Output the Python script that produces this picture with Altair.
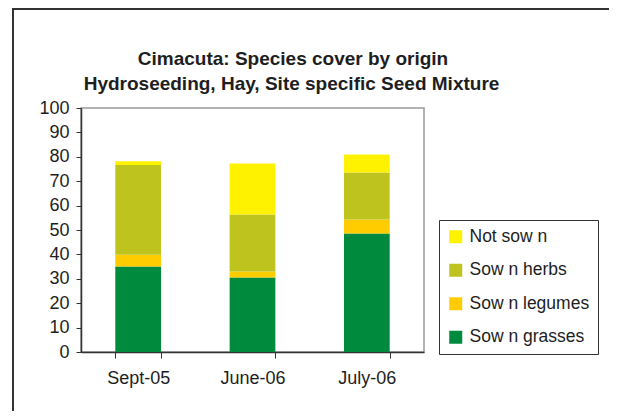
import altair as alt
import pandas as pd

dates = ["Sept-05", "June-06", "July-06"]
series = ["Not sow n", "Sow n herbs", "Sow n legumes", "Sow n grasses"]
colors = ["#FFF200", "#BFC31E", "#FFCC00", "#008A3E"]
grasses = [35.0, 30.5, 48.6]
legumes = [4.9, 2.5, 5.7]
herbs = [36.7, 23.4, 19.3]
not_sown = [1.6, 20.9, 7.3]
title_lines = ["Cimacuta: Species cover by origin",
               "Hydroseeding, Hay, Site specific Seed Mixture"]

rows = []
for i, d in enumerate(dates):
    for name, vals, rank in [("Sow n grasses", grasses, 0), ("Sow n legumes", legumes, 1),
                             ("Sow n herbs", herbs, 2), ("Not sow n", not_sown, 3)]:
        rows.append({"date": d, "series": name, "value": vals[i], "rank": rank})
df = pd.DataFrame(rows)

FONT = "Liberation Sans"
TXT = "#1e1e1e"

bars = alt.Chart(df).mark_bar().encode(
    x=alt.X("date:N", sort=dates, title=None,
            scale=alt.Scale(paddingInner=0.6, paddingOuter=0.3),
            axis=alt.Axis(labelAngle=0, tickBand="extent", tickSize=6, labelPadding=11,
                          labelFontSize=18, labelFont=FONT, labelColor=TXT,
                          domainColor="#333", tickColor="#333", domainWidth=1.5)),
    y=alt.Y("value:Q", stack="zero", title=None,
            scale=alt.Scale(domain=[0, 100], nice=False),
            axis=alt.Axis(values=list(range(0, 101, 10)), tickSize=5, labelPadding=7,
                          grid=False, labelFontSize=18, labelFont=FONT, labelColor=TXT,
                          domainColor="#333", tickColor="#333", domainWidth=1.5)),
    color=alt.Color("series:N", scale=alt.Scale(domain=series, range=colors),
                    legend=alt.Legend(title=None, orient="none", legendX=358, legendY=112,
                                      strokeColor="#333", fillColor="white", padding=8,
                                      symbolType="square", symbolSize=169,
                                      symbolStrokeWidth=0, labelFontSize=17.5, labelFont=FONT,
                                      labelColor=TXT, rowPadding=14.5, labelOffset=5)),
    order=alt.Order("rank:Q", sort="ascending"),
)

title1 = alt.Chart(pd.DataFrame({"t": [title_lines[0]]})).mark_text(
    font=FONT, fontSize=19, fontWeight="bold", color=TXT, align="center",
    baseline="alphabetic").encode(text="t:N", x=alt.value(212), y=alt.value(-43))
title2 = alt.Chart(pd.DataFrame({"t": [title_lines[1]]})).mark_text(
    font=FONT, fontSize=19, fontWeight="bold", color=TXT, align="center",
    baseline="alphabetic").encode(text="t:N", x=alt.value(210.5), y=alt.value(-18))

frame = pd.DataFrame({"a": [0]})
left_border = alt.Chart(frame).mark_rule(color="#333", strokeWidth=2).encode(
    x=alt.value(-68), y=alt.value(-100), y2=alt.value(320))
top_border = alt.Chart(frame).mark_rule(color="#333", strokeWidth=2).encode(
    x=alt.value(-69), x2=alt.value(540), y=alt.value(-99))

chart = alt.layer(bars, title1, title2, left_border, top_border).properties(
    width=343, height=244,
    padding={"left": 73, "top": 100, "right": 185, "bottom": 59},
    autosize=alt.AutoSizeParams(type="none"),
).configure_view(stroke="#999", strokeWidth=1.5)

chart.save("out.html", embed_options={"renderer": "svg", "actions": False})
